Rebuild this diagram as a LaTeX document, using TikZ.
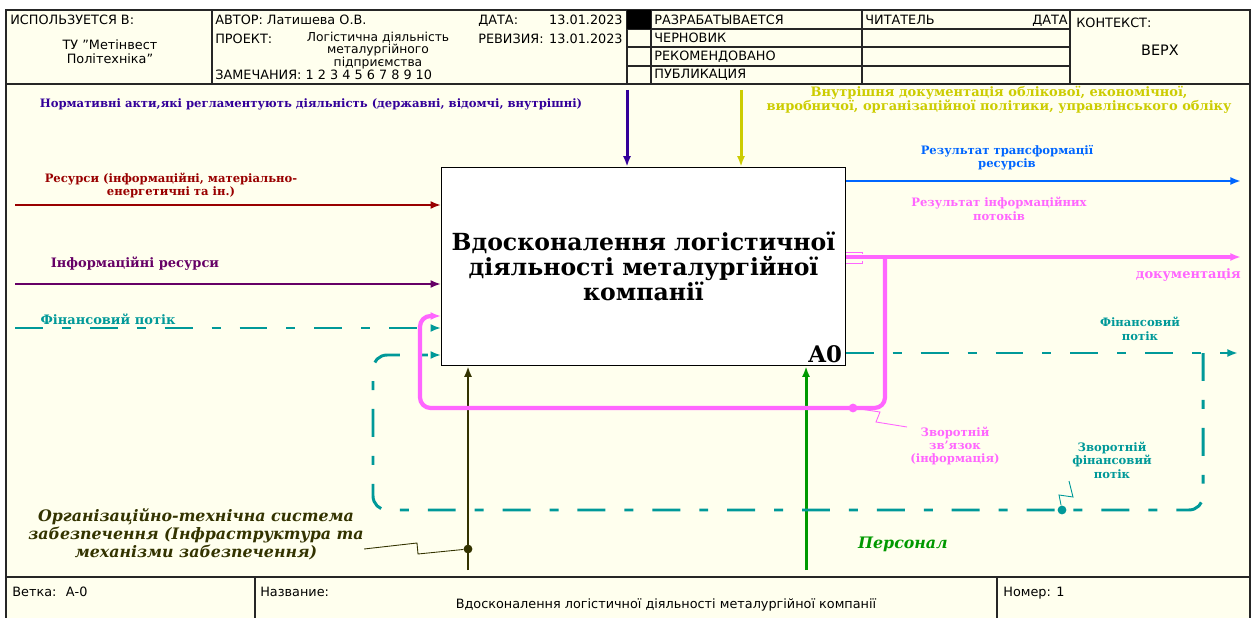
\documentclass[tikz,border=0pt]{standalone}
\usepackage{fontspec}
\setmainfont{DejaVu Serif}
\setsansfont{DejaVu Sans}
\usetikzlibrary{arrows.meta}
\definecolor{paper}{RGB}{255,255,238}
\definecolor{ctlblue}{RGB}{51,0,153}
\definecolor{ctlyel}{RGB}{204,204,0}
\definecolor{inred}{RGB}{153,0,0}
\definecolor{inpurp}{RGB}{102,0,102}
\definecolor{fin}{RGB}{0,153,153}
\definecolor{outblue}{RGB}{0,102,255}
\definecolor{info}{RGB}{255,102,255}
\definecolor{mecholive}{RGB}{51,51,0}
\definecolor{mechgreen}{RGB}{0,153,0}

\begin{document}
\begin{tikzpicture}[
  x=0.02cm, y=-0.02cm,
  frame/.style={draw=black!85, line width=0.6pt},
  hdr/.style={font=\sffamily\fontsize{7.3}{8}\selectfont, inner sep=0pt},
  lbl/.style={align=center, inner sep=0pt, font=\bfseries\fontsize{6.6}{7.6}\selectfont},
  biglbl/.style={lbl, font=\bfseries\fontsize{7.4}{8}\selectfont},
  mechlbl/.style={lbl, font=\bfseries\itshape\fontsize{9}{10.2}\selectfont},
  flow/.style={line width=1.7pt, -{Latex[length=6pt,width=4.5pt]}},
  infoflow/.style={flow, info, line width=2.4pt},
  finflow/.style={flow, fin, dash pattern=on 15.9pt off 10.8pt on 5.1pt off 10.8pt},
  lead/.style={line width=0.5pt},
  joint/.style={circle, fill, inner sep=0pt, minimum size=5pt},
  box/.style={draw, fill=white, line width=0.7pt, minimum width=229.6pt, minimum height=112.8pt,
    align=center, font=\bfseries\fontsize{13.4}{14.2}\selectfont}
]
  \useasboundingbox (0,0) rectangle (1254,618);
  \fill[white] (0,0) rectangle (1254,618);
  \fill[paper] (6,10) rectangle (1250,618);

  % frame
  \draw[frame] (6,618) -- (6,10) -- (1250,10) -- (1250,618);
  \draw[frame] (6,84) -- (1250,84);
  \draw[frame] (6,577) -- (1250,577);
  \foreach \x in {212,627,651,862,1070} \draw[frame] (\x,10) -- (\x,84);
  \foreach \y in {29,47,66} \draw[frame] (627,\y) -- (1070,\y);
  \foreach \x in {255,997} \draw[frame] (\x,577) -- (\x,618);
  \fill (627,10) rectangle (651,29);

  % header
  \node[hdr, anchor=base west] (used) at (10,25) {ИСПОЛЬЗУЕТСЯ В:};
  \node[hdr, align=center] (org) at (110,52) {ТУ "Метінвест\\Політехніка"};
  \node[hdr, anchor=base west] (author) at (215,25) {АВТОР: Латишева О.В.};
  \node[hdr, anchor=base west] (project) at (215,44) {ПРОЕКТ:};
  \node[hdr, align=center, anchor=base, font=\sffamily\fontsize{7}{6.7}\selectfont] (projname) at (378,67) {Логістична діяльність\\металургійного\\підприємства};
  \node[hdr, anchor=base west] (notes) at (215,80) {ЗАМЕЧАНИЯ: 1 2 3 4 5 6 7 8 9 10};
  \node[hdr, anchor=base west] (date) at (478,25) {ДАТА:};
  \node[hdr, anchor=base east] (dateval) at (623,25) {13.01.2023};
  \node[hdr, anchor=base west] (rev) at (478,44) {РЕВИЗИЯ:};
  \node[hdr, anchor=base east] (revval) at (623,44) {13.01.2023};
  \node[hdr, anchor=base west] (st1) at (654,25) {РАЗРАБАТЫВАЕТСЯ};
  \node[hdr, anchor=base west] (st2) at (654,43) {ЧЕРНОВИК};
  \node[hdr, anchor=base west] (st3) at (654,61) {РЕКОМЕНДОВАНО};
  \node[hdr, anchor=base west] (st4) at (654,79) {ПУБЛИКАЦИЯ};
  \node[hdr, anchor=base west] (reader) at (865,25) {ЧИТАТЕЛЬ};
  \node[hdr, anchor=base east] (rdate) at (1068,25) {ДАТА};
  \node[hdr, anchor=base west] (ctx) at (1076,28) {КОНТЕКСТ:};
  \node[hdr, font=\sffamily\fontsize{8.2}{9}\selectfont] (top) at (1160,50) {ВЕРХ};

  % footer
  \node[hdr, anchor=base west] (branch) at (12,596) {Ветка: \ А-0};
  \node[hdr, anchor=base west] (title) at (260,596) {Название:};
  \node[hdr, anchor=base] (titleval) at (666,608) {Вдосконалення логістичної діяльності металургійної компанії};
  \node[hdr, anchor=base west] (num) at (1003,596) {Номер: 1};

  % activity
  \node[box] (a0) at (643.5,266.5) {Вдосконалення логістичної\\діяльності металургійної\\компанії};
  \node[font=\bfseries\fontsize{13}{14}\selectfont, anchor=south east, inner sep=2pt] (a0num) at (a0.south east) {A0};

  % controls
  \coordinate (normsrc) at (627,90);
  \coordinate (docsrc) at (741,90);
  \draw[flow, ctlblue] (normsrc) -- (normsrc |- a0.north);
  \draw[flow, ctlyel] (docsrc) -- (docsrc |- a0.north);
  \node[lbl, text=ctlblue] (norm) at (311,104) {Нормативні акти,які регламентують діяльність (державні, відомчі, внутрішні)};
  \node[biglbl, text=ctlyel] (doc) at (999,100) {Внутрішня документація облікової, економічної,\\виробничої, організаційної політики, управлінського обліку};

  % inputs
  \coordinate (ressrc) at (15,205);
  \coordinate (infsrc) at (15,284);
  \coordinate (finsrc) at (15,328);
  \draw[flow, inred] (ressrc) -- (ressrc -| a0.west);
  \draw[flow, inpurp] (infsrc) -- (infsrc -| a0.west);
  \draw[finflow] (finsrc) -- (finsrc -| a0.west);
  \node[lbl, text=inred] (res) at (171,185.5) {Ресурси (інформаційні, матеріально-\\енергетичні та ін.)};
  \node[biglbl, text=inpurp] (infres) at (135,264) {Інформаційні ресурси};
  \node[biglbl, text=fin] (finin) at (108,319) {Фінансовий потік};

  % mechanisms
  \coordinate (orgsrc) at (468,570);
  \coordinate (staffsrc) at (806,570);
  \draw[flow, mecholive] (orgsrc) -- (orgsrc |- a0.south);
  \draw[flow, mechgreen] (staffsrc) -- (staffsrc |- a0.south);
  \node[mechlbl, text=mecholive] (orgsys) at (196,534) {Організаційно-технічна система\\забезпечення (Інфраструктура та\\механізми забезпечення)};
  \node[mechlbl, text=mechgreen] (staff) at (903,544) {Персонал};
  \node[joint, mecholive] (orgdot) at (468,549) {};
  \draw[lead, mecholive] (orgdot) -- (418,554) -- (417,543) -- (orgsys.east |- orgdot);

  % outputs
  \coordinate (trsink) at (1241,181);
  \coordinate (infosink) at (1241,257);
  \coordinate (finsink) at (1238,353);
  \draw[flow, outblue] (trsink -| a0.east) -- (trsink);
  \node[lbl, text=outblue] (trres) at (1007,158) {Результат трансформації\\ресурсів};
  \node[lbl, text=info] (infres2) at (999,209) {Результат інформаційних\\потоків};
  \node[biglbl, text=info, anchor=east] (docs) at (1241,275) {документація};
  \node[lbl, text=fin] (finout) at (1140,329) {Фінансовий\\потік};

  % financial feedback
  \coordinate (finret) at (373,355);
  \draw[finflow] (finsink -| a0.east) -- (finsink);
  \draw[finflow, rounded corners=8pt] (1203,353) -- (1203,510) -- (373,510) -- (finret) -- (finret -| a0.west);
  \node[lbl, text=fin] (fbfin) at (1112,460) {Зворотній\\фінансовий\\потік};
  \node[joint, fin] (findot) at (1062,510) {};
  \draw[lead, fin] (findot) -- (1059,495) -- (1073,497) -- (1069,481);

  % information feedback
  \coordinate (inforet) at (420,316);
  \draw[info, line width=0.5pt] (846,252) -- (862,252) -- (862,254) (846,263) -- (862,263) -- (862,261);
  \draw[infoflow] (infosink -| a0.east) -- (infosink);
  \draw[infoflow, rounded corners=6pt] (885,257) -- (885,408) -- (420,408) -- (inforet) -- (inforet -| a0.west);
  \node[lbl, text=info] (fbinfo) at (955,446) {Зворотній\\зв'язок\\(інформація)};
  \node[joint, info] (infodot) at (853,408) {};
  \draw[lead, info] (infodot) -- (880,412) -- (876,422) -- (907,427);
\end{tikzpicture}
\end{document}
